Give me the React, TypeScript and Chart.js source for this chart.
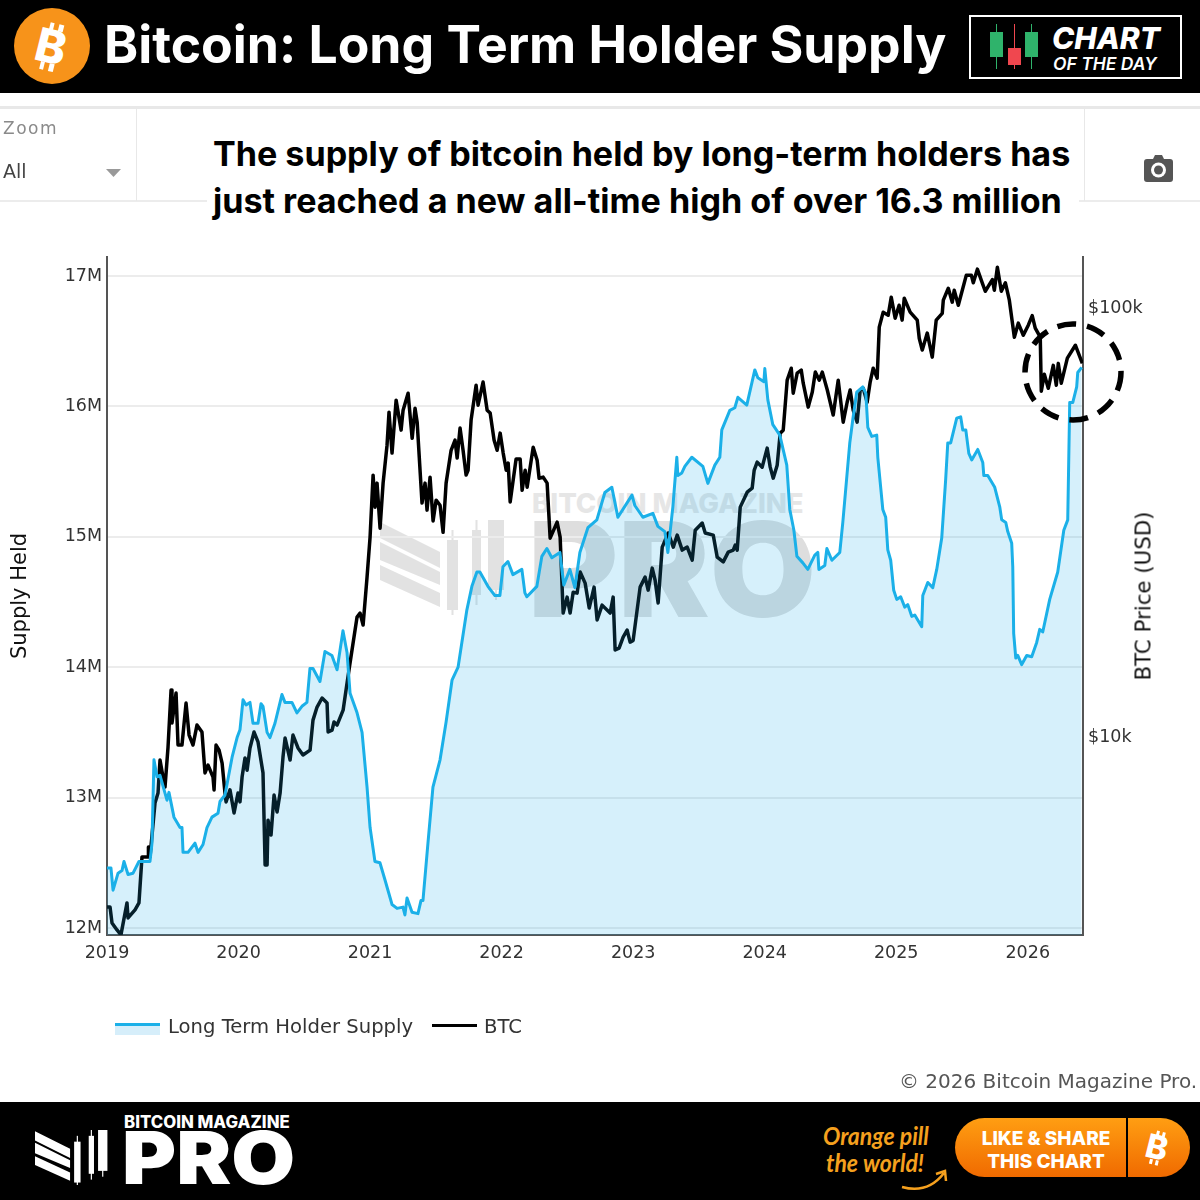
import { useEffect, useRef } from "react";
import type { CSSProperties } from "react";
import { Chart, registerables } from "chart.js";

Chart.register(...registerables);

// Long Term Holder Supply, millions of BTC
const ltsYears = [
  2019.0, 2019.03, 2019.046, 2019.084, 2019.114, 2019.129, 2019.16, 2019.198, 2019.243, 2019.327,
  2019.342, 2019.357, 2019.38, 2019.403, 2019.456, 2019.471, 2019.509, 2019.555, 2019.57, 2019.578,
  2019.616, 2019.669, 2019.692, 2019.73, 2019.76, 2019.798, 2019.844, 2019.859, 2019.897, 2019.951,
  2019.989, 2020.011, 2020.034, 2020.057, 2020.087, 2020.11, 2020.148, 2020.171, 2020.186, 2020.217,
  2020.239, 2020.277, 2020.33, 2020.353, 2020.406, 2020.444, 2020.482, 2020.52, 2020.543, 2020.566,
  2020.619, 2020.657, 2020.71, 2020.749, 2020.794, 2020.825, 2020.848, 2020.901, 2020.939, 2020.977,
  2021.0, 2021.037, 2021.075, 2021.113, 2021.167, 2021.205, 2021.25, 2021.265, 2021.281, 2021.319,
  2021.364, 2021.387, 2021.402, 2021.44, 2021.478, 2021.532, 2021.578, 2021.623, 2021.669, 2021.736,
  2021.774, 2021.812, 2021.835, 2021.896, 2021.926, 2021.949, 2021.987, 2022.01, 2022.048, 2022.086,
  2022.154, 2022.177, 2022.192, 2022.268, 2022.306, 2022.344, 2022.382, 2022.443, 2022.473, 2022.519,
  2022.557, 2022.595, 2022.656, 2022.724, 2022.785, 2022.838, 2022.884, 2022.991, 2023.013, 2023.074,
  2023.15, 2023.188, 2023.241, 2023.264, 2023.302, 2023.332, 2023.34, 2023.37, 2023.393, 2023.446,
  2023.53, 2023.568, 2023.621, 2023.659, 2023.674, 2023.735, 2023.773, 2023.796, 2023.864, 2023.925,
  2023.948, 2023.994, 2024.001, 2024.024, 2024.062, 2024.115, 2024.168, 2024.191, 2024.222, 2024.245,
  2024.29, 2024.328, 2024.381, 2024.404, 2024.412, 2024.457, 2024.473, 2024.511, 2024.571, 2024.594,
  2024.647, 2024.67, 2024.7, 2024.746, 2024.769, 2024.784, 2024.814, 2024.852, 2024.86, 2024.898,
  2024.92, 2024.936, 2024.958, 2024.981, 2025.004, 2025.034, 2025.065, 2025.088, 2025.118, 2025.141,
  2025.194, 2025.202, 2025.24, 2025.278, 2025.308, 2025.346, 2025.376, 2025.392, 2025.414, 2025.46,
  2025.49, 2025.506, 2025.529, 2025.552, 2025.574, 2025.62, 2025.658, 2025.666, 2025.696, 2025.749,
  2025.787, 2025.802, 2025.833, 2025.848, 2025.878, 2025.886, 2025.893, 2025.909, 2025.924, 2025.954,
  2025.992, 2026.03, 2026.068, 2026.091, 2026.114, 2026.167, 2026.228, 2026.274, 2026.304, 2026.319,
  2026.342, 2026.372, 2026.38, 2026.41,
];
const ltsSupply = [
  12.46, 12.46, 12.29, 12.42, 12.44, 12.51, 12.41, 12.42, 12.51, 12.51,
  12.65, 13.29, 13.16, 13.17, 12.98, 13.04, 12.85, 12.77, 12.77, 12.58,
  12.58, 12.65, 12.58, 12.64, 12.77, 12.85, 12.88, 12.97, 13.02, 13.31,
  13.46, 13.52, 13.75, 13.71, 13.73, 13.57, 13.57, 13.72, 13.7, 13.5,
  13.46, 13.57, 13.79, 13.73, 13.73, 13.65, 13.7, 13.73, 13.99, 13.99,
  13.89, 14.12, 14.09, 13.98, 14.28, 14.11, 13.8, 13.65, 13.5, 13.08,
  12.77, 12.51, 12.5, 12.37, 12.18, 12.15, 12.16, 12.1, 12.23, 12.12,
  12.11, 12.21, 12.21, 12.65, 13.08, 13.29, 13.58, 13.9, 14.0, 14.44,
  14.62, 14.73, 14.73, 14.62, 14.58, 14.55, 14.55, 14.77, 14.81, 14.71,
  14.75, 14.57, 14.54, 14.62, 14.85, 14.91, 14.84, 14.88, 14.63, 14.75,
  14.61, 14.88, 15.07, 15.13, 15.34, 15.38, 15.15, 15.32, 15.24, 15.15,
  15.18, 15.08, 15.04, 14.88, 15.23, 15.61, 15.47, 15.49, 15.54, 15.61,
  15.54, 15.41, 15.55, 15.61, 15.82, 15.97, 15.99, 16.07, 16.01, 16.28,
  16.22, 16.19, 16.29, 16.05, 15.86, 15.78, 15.55, 15.21, 15.05, 14.85,
  14.8, 14.75, 14.86, 14.88, 14.75, 14.78, 14.91, 14.82, 14.88, 15.11,
  15.72, 15.9, 16.11, 16.15, 16.1, 15.84, 15.77, 15.78, 15.61, 15.21,
  15.15, 14.9, 14.82, 14.59, 14.52, 14.54, 14.46, 14.48, 14.39, 14.4,
  14.31, 14.55, 14.65, 14.61, 14.75, 14.99, 15.44, 15.72, 15.72, 15.91,
  15.92, 15.82, 15.82, 15.64, 15.59, 15.67, 15.57, 15.47, 15.47, 15.38,
  15.23, 15.13, 15.11, 15.04, 14.95, 14.77, 14.26, 14.07, 14.09, 14.02,
  14.09, 14.08, 14.19, 14.29, 14.27, 14.52, 14.73, 15.05, 15.13, 16.03,
  16.03, 16.15, 16.26, 16.3,
];

// BTC price, USD
const btcYears = [
  2019.0, 2019.023, 2019.038, 2019.076, 2019.106, 2019.152, 2019.16, 2019.213, 2019.243, 2019.266,
  2019.312, 2019.315, 2019.327, 2019.365, 2019.388, 2019.403, 2019.426, 2019.441, 2019.464, 2019.487,
  2019.494, 2019.525, 2019.54, 2019.57, 2019.601, 2019.624, 2019.654, 2019.684, 2019.722, 2019.745,
  2019.768, 2019.806, 2019.814, 2019.829, 2019.852, 2019.875, 2019.897, 2019.905, 2019.935, 2019.966,
  2019.996, 2020.011, 2020.027, 2020.049, 2020.065, 2020.087, 2020.118, 2020.148, 2020.186, 2020.202,
  2020.217, 2020.224, 2020.247, 2020.27, 2020.293, 2020.316, 2020.338, 2020.354, 2020.392, 2020.414,
  2020.452, 2020.49, 2020.544, 2020.566, 2020.597, 2020.635, 2020.673, 2020.681, 2020.711, 2020.726,
  2020.749, 2020.795, 2020.825, 2020.848, 2020.901, 2020.924, 2020.947, 2020.977, 2021.0, 2021.023,
  2021.038, 2021.053, 2021.076, 2021.099, 2021.129, 2021.144, 2021.167, 2021.198, 2021.236, 2021.251,
  2021.289, 2021.32, 2021.342, 2021.358, 2021.395, 2021.418, 2021.433, 2021.456, 2021.479, 2021.502,
  2021.532, 2021.555, 2021.578, 2021.616, 2021.646, 2021.662, 2021.684, 2021.707, 2021.73, 2021.745,
  2021.768, 2021.806, 2021.821, 2021.859, 2021.89, 2021.913, 2021.943, 2021.966, 2021.989, 2022.012,
  2022.035, 2022.05, 2022.065, 2022.11, 2022.141, 2022.156, 2022.179, 2022.194, 2022.24, 2022.27,
  2022.285, 2022.316, 2022.346, 2022.369, 2022.422, 2022.445, 2022.468, 2022.498, 2022.521, 2022.544,
  2022.574, 2022.597, 2022.635, 2022.666, 2022.703, 2022.726, 2022.764, 2022.825, 2022.848, 2022.863,
  2022.893, 2022.924, 2022.954, 2022.977, 2023.0, 2023.053, 2023.091, 2023.114, 2023.145, 2023.167,
  2023.19, 2023.221, 2023.267, 2023.305, 2023.335, 2023.373, 2023.411, 2023.449, 2023.472, 2023.525,
  2023.548, 2023.609, 2023.639, 2023.685, 2023.723, 2023.761, 2023.776, 2023.791, 2023.814, 2023.867,
  2023.905, 2023.92, 2023.943, 2023.981, 2024.019, 2024.042, 2024.065, 2024.095, 2024.118, 2024.141,
  2024.171, 2024.202, 2024.217, 2024.247, 2024.278, 2024.293, 2024.331, 2024.362, 2024.385, 2024.415,
  2024.438, 2024.476, 2024.521, 2024.559, 2024.597, 2024.627, 2024.65, 2024.673, 2024.703, 2024.726,
  2024.749, 2024.779, 2024.802, 2024.825, 2024.855, 2024.871, 2024.901, 2024.939, 2024.962, 2024.992,
  2025.022, 2025.045, 2025.061, 2025.106, 2025.16, 2025.175, 2025.198, 2025.236, 2025.274, 2025.304,
  2025.35, 2025.358, 2025.396, 2025.426, 2025.441, 2025.472, 2025.533, 2025.571, 2025.586, 2025.617,
  2025.654, 2025.677, 2025.731, 2025.746, 2025.769, 2025.799, 2025.83, 2025.86, 2025.898, 2025.928,
  2025.966, 2026.004, 2026.034, 2026.057, 2026.095, 2026.103, 2026.126, 2026.156, 2026.194, 2026.217,
  2026.232, 2026.255, 2026.301, 2026.362, 2026.415,
];
const btcPrice = [
  4018, 4018, 3688, 3552, 3458, 4105, 3788, 3955, 4105, 5254,
  5254, 5543, 5254, 7019, 7405, 8840, 8069, 7648, 9478, 12867,
  10780, 12662, 9580, 9580, 12000, 10108, 9580, 10665, 10272, 8250,
  8600, 8069, 7530, 9580, 9320, 8690, 7405, 7060, 7530, 6655,
  7405, 7060, 8069, 8940, 8370, 9430, 10272, 9740, 8250, 5035,
  5035, 6400, 5910, 7325, 6690, 7405, 8983, 9945, 8840, 10108,
  9430, 9080, 9320, 10950, 11746, 12330, 12000, 10272, 10380, 10840,
  10665, 11550, 13360, 14900, 19035, 19450, 18240, 23592, 29240, 40780,
  34347, 39070, 30680, 39070, 47900, 57180, 45900, 60990, 51920, 57800,
  63300, 49700, 58400, 54200, 35100, 39070, 33800, 40346, 31900, 35650,
  34700, 30000, 39070, 46600, 49200, 44700, 52500, 46600, 40800, 41850,
  54800, 66100, 59380, 67200, 57800, 56900, 49200, 46600, 51100, 45900,
  41850, 43500, 35300, 44450, 44450, 37600, 41850, 38238, 47393, 44200,
  40100, 40346, 39070, 29080, 31700, 29240, 19450, 21192, 19450, 21760,
  21650, 24240, 22840, 19980, 22360, 18750, 20300, 19450, 21192, 15950,
  16120, 17099, 17760, 16640, 16800, 22360, 23592, 22000, 24760, 23200,
  20540, 27713, 29900, 27713, 29560, 27270, 27713, 25840, 30340, 31530,
  29900, 29560, 26265, 25600, 26980, 27270, 28020, 27270, 34347, 37220,
  38030, 41850, 43730, 42570, 47140, 42570, 40120, 43030, 51100, 51900,
  67900, 72400, 63300, 70500, 71650, 66800, 58740, 63700, 70900, 67900,
  70900, 64400, 56300, 67900, 54200, 60300, 64400, 57800, 54200, 64400,
  65000, 60300, 67200, 72400, 68630, 90236, 97800, 96200, 105998, 94700,
  101500, 93700, 105400, 97800, 93700, 85000, 79800, 87400, 76818, 93700,
  97200, 104300, 111200, 103200, 110000, 101500, 119300, 119300, 114500, 123200,
  114500, 109400, 116500, 110000, 124512, 109400, 114500, 104300, 85521, 92200,
  86400, 91200, 96000, 89800, 85500, 64000, 70100, 65000, 73500, 66100,
  74300, 66800, 76400, 81900, 74300,
];

const yearTicks = [2019, 2020, 2021, 2022, 2023, 2024, 2025, 2026];
const supplyTicks = [12, 13, 14, 15, 16, 17];
const priceTicks = [10000, 100000];

const axisFont = { family: "'DejaVu Sans'", size: 17.5 };
const axisInk = "#333";
const edgeLine = "#555";

const fixSize = (prop: "width" | "height", size: number) => (scale: any) => {
  scale[prop] = size;
  scale.paddingTop = 0;
  scale.paddingBottom = 0;
  scale.paddingLeft = 0;
  scale.paddingRight = 0;
};

function Text({ x, y, style, children }: { x: number; y: number; style: CSSProperties; children: any }) {
  return (
    <div style={{ position: "absolute", left: x, top: y, whiteSpace: "nowrap", lineHeight: 1, transformOrigin: "left top", ...style }}>
      {children}
    </div>
  );
}

// the striped mark with three candles, drawn in a 125x95 box
function Emblem({ x, y, w, color }: { x: number; y: number; w: number; color: string }) {
  return (
    <svg style={{ position: "absolute", left: x, top: y }} width={w} height={(w * 95) / 125} viewBox="0 0 125 95">
      <g fill={color}>
        <polygon points="0,2 60,32 60,48 0,18" />
        <polygon points="0,22 60,52 60,65 0,40" />
        <polygon points="0,45 60,73 60,87 0,60" />
        <rect x="67" y="20" width="11" height="70" />
        <rect x="71.5" y="10" width="2" height="85" />
        <rect x="92" y="10" width="9" height="65" />
        <rect x="95.5" y="0" width="2" height="85" />
        <rect x="108" y="0" width="16" height="70" />
        <rect x="115" y="0" width="2" height="80" />
      </g>
    </svg>
  );
}

function Coin({ x, y, size, color }: { x: number; y: number; size: number; color: string }) {
  const tick = (left: number, top: number) => (
    <div
      style={{
        position: "absolute",
        left: left * size,
        top: top * size,
        width: 0.09 * size,
        height: 0.16 * size,
        background: color,
      }}
    />
  );
  return (
    <div
      style={{
        position: "absolute",
        left: x,
        top: y,
        fontFamily: "Inter",
        fontWeight: 800,
        fontSize: size,
        lineHeight: 1,
        color,
        transform: "rotate(14deg)",
      }}
    >
      B
      {tick(0.2, 0.0)}
      {tick(0.4, 0.0)}
      {tick(0.2, 0.88)}
      {tick(0.4, 0.88)}
    </div>
  );
}

function Candle({ x, top, bottom, color }: { x: number; top: number; bottom: number; color: string }) {
  return (
    <>
      <div style={{ position: "absolute", left: x - 0.5, top: 24, width: 1.5, height: 45, background: color }} />
      <div style={{ position: "absolute", left: x - 6, top, width: 13, height: bottom - top, background: color }} />
    </>
  );
}

export default function App() {
  const canvasRef = useRef<HTMLCanvasElement>(null);
  const chartRef = useRef<Chart | null>(null);

  useEffect(() => {
    if (!canvasRef.current) return;
    document.body.style.margin = "0";

    chartRef.current = new Chart(canvasRef.current, {
      type: "line",
      data: {
        datasets: [
          {
            label: "Long Term Holder Supply",
            data: ltsYears.map((year, i) => ({ x: year, y: ltsSupply[i] })),
            yAxisID: "y",
            borderColor: "#1bb0e8",
            backgroundColor: "rgba(29,174,232,0.18)",
            borderWidth: 3,
            borderJoinStyle: "round",
            pointRadius: 0,
            tension: 0,
            fill: "start",
          },
          {
            label: "BTC",
            data: btcYears.map((year, i) => ({ x: year, y: btcPrice[i] })),
            yAxisID: "y1",
            borderColor: "#000",
            borderWidth: 3.5,
            borderJoinStyle: "round",
            pointRadius: 0,
            tension: 0,
            fill: false,
          },
        ],
      },
      options: {
        responsive: false,
        animation: false,
        devicePixelRatio: 1,
        layout: { padding: { left: 0, right: 0, top: 257, bottom: 225 } },
        plugins: { legend: { display: false }, tooltip: { enabled: false } },
        events: [],
        scales: {
          x: {
            type: "linear",
            min: 2019,
            max: 2026.42,
            afterBuildTicks: (scale: any) => {
              scale.ticks = yearTicks.map((value) => ({ value }));
            },
            afterFit: fixSize("height", 40),
            grid: { display: false, drawTicks: false },
            border: { display: true, color: edgeLine, width: 2 },
            ticks: {
              autoSkip: false,
              maxRotation: 0,
              padding: 8,
              color: axisInk,
              font: axisFont,
              callback: (value) => String(value),
            },
          },
          y: {
            type: "linear",
            position: "left",
            min: 11.946,
            max: 17.146,
            afterBuildTicks: (scale: any) => {
              scale.ticks = supplyTicks.map((value) => ({ value }));
            },
            afterFit: fixSize("width", 107),
            grid: { color: "#ececec", lineWidth: 2, drawTicks: false },
            border: { display: true, color: edgeLine, width: 2 },
            title: {
              display: true,
              text: "Supply Held",
              color: "#111",
              font: { family: "'DejaVu Sans'", size: 21 },
              padding: { top: 8, bottom: 0 },
            },
            ticks: {
              autoSkip: false,
              padding: 5,
              color: axisInk,
              font: axisFont,
              callback: (value) => `${value}M`,
            },
          },
          y1: {
            type: "logarithmic",
            position: "right",
            min: 3456,
            max: 131500,
            afterBuildTicks: (scale: any) => {
              scale.ticks = priceTicks.map((value) => ({ value }));
            },
            afterFit: fixSize("width", 117),
            grid: { display: false, drawTicks: false },
            border: { display: true, color: edgeLine, width: 2 },
            ticks: {
              autoSkip: false,
              padding: 5,
              color: axisInk,
              font: axisFont,
              callback: (value) => `$${Number(value) / 1000}k`,
            },
          },
        },
      },
    });

    return () => {
      if (chartRef.current) {
        chartRef.current.destroy();
      }
    };
  }, []);

  const line = (left: number, top: number, width: number, height: number, background: string) => (
    <div style={{ position: "absolute", left, top, width, height, background }} />
  );

  return (
    <div style={{ position: "absolute", left: 0, top: 0, width: 1200, height: 1200, overflow: "hidden", background: "#fff" }}>
      {/* watermark sits under the chart so the fill tints it */}
      <Emblem x={380} y={520} w={125} color="#e2e2e2" />
      <Text x={532} y={490} style={{ fontFamily: "Inter", fontWeight: 800, fontSize: 27.5, color: "#e6e6e6" }}>
        BITCOIN MAGAZINE
      </Text>
      <Text x={528} y={503} style={{ fontFamily: "Inter", fontWeight: 900, fontSize: 132, color: "#dedede", transform: "scaleX(1.04)" }}>
        PRO
      </Text>

      <canvas ref={canvasRef} width={1200} height={1200} style={{ position: "absolute", left: 0, top: 0, display: "block" }} />

      {/* header */}
      {line(0, 0, 1200, 93, "#000")}
      <div style={{ position: "absolute", left: 14, top: 8, width: 76, height: 76, borderRadius: 38, background: "#f7931a" }} />
      <Coin x={36} y={23} size={46} color="#fff" />
      <Text x={104} y={19} style={{ fontFamily: "Inter", fontWeight: 700, fontSize: 51.7, color: "#fff" }}>
        Bitcoin: Long Term Holder Supply
      </Text>
      <div style={{ position: "absolute", left: 969, top: 15, width: 209, height: 60, border: "2px solid #fff" }} />
      <Candle x={996} top={32} bottom={57} color="#2fb36b" />
      <Candle x={1014} top={48} bottom={65} color="#f0474f" />
      <Candle x={1031} top={32} bottom={57} color="#2fb36b" />
      <Text x={1052} y={23} style={{ fontFamily: "Inter", fontWeight: 800, fontStyle: "italic", fontSize: 30, color: "#fff" }}>
        CHART
      </Text>
      <Text x={1053} y={55} style={{ fontFamily: "Inter", fontWeight: 600, fontStyle: "italic", fontSize: 17.5, color: "#fff" }}>
        OF THE DAY
      </Text>

      {/* toolbar */}
      {line(0, 106, 1200, 3, "#e8e8e8")}
      {line(0, 200, 1200, 2, "#ececec")}
      {line(136, 108, 1, 93, "#e8e8e8")}
      {line(1084, 108, 1, 93, "#e8e8e8")}
      <Text x={3} y={120} style={{ fontFamily: "'DejaVu Sans'", fontSize: 17, letterSpacing: 1.5, color: "#8a8a8a" }}>
        Zoom
      </Text>
      <Text x={3} y={162} style={{ fontFamily: "'DejaVu Sans'", fontSize: 19, color: "#444" }}>
        All
      </Text>
      <svg style={{ position: "absolute", left: 106, top: 169 }} width={16} height={10}>
        <polygon points="0,0 15,0 7.5,8" fill="#999" />
      </svg>
      <svg style={{ position: "absolute", left: 1144, top: 155 }} width={29} height={27} viewBox="0 0 29 27">
        <path d="M3 4h6l2-4h7l2 4h6a3 3 0 0 1 3 3v17a3 3 0 0 1-3 3H3a3 3 0 0 1-3-3V7a3 3 0 0 1 3-3z" fill="#555" />
        <circle cx="14.5" cy="15" r="7.5" fill="#fff" />
        <circle cx="14.5" cy="15" r="4.5" fill="#555" />
      </svg>
      <div
        style={{
          position: "absolute",
          left: 207,
          top: 130,
          width: 866,
          padding: "0 0 0 6px",
          background: "#fff",
          fontFamily: "Inter",
          fontWeight: 700,
          fontSize: 34.1,
          lineHeight: "47px",
          color: "#000",
          whiteSpace: "nowrap",
        }}
      >
        The supply of bitcoin held by long-term holders has
        <br />
        just reached a new all-time high of over 16.3 million
      </div>

      {/* right axis title reads upward */}
      <div
        style={{
          position: "absolute",
          left: 1143,
          top: 596,
          transform: "translate(-50%, -50%) rotate(-90deg)",
          fontFamily: "'DejaVu Sans'",
          fontSize: 21.3,
          color: "#111",
          whiteSpace: "nowrap",
        }}
      >
        BTC Price (USD)
      </div>

      {/* circled end of the series */}
      <svg style={{ position: "absolute", left: 1015, top: 315 }} width={116} height={116}>
        <circle cx="58" cy="57" r="48" fill="none" stroke="#000" strokeWidth="5.5" strokeDasharray="19 11" />
      </svg>

      {/* legend */}
      {line(115, 1023, 45, 3, "#1bb0e8")}
      {line(115, 1026, 45, 9, "#d6eefa")}
      <Text x={168} y={1017} style={{ fontFamily: "'DejaVu Sans'", fontSize: 19.6, color: "#333" }}>
        Long Term Holder Supply
      </Text>
      {line(432, 1024, 45, 3, "#000")}
      <Text x={484} y={1017} style={{ fontFamily: "'DejaVu Sans'", fontSize: 19.6, color: "#333" }}>
        BTC
      </Text>
      <Text x={899} y={1071} style={{ fontFamily: "'DejaVu Sans'", fontSize: 20, color: "#555" }}>
        © 2026 Bitcoin Magazine Pro.
      </Text>

      {/* footer */}
      {line(0, 1102, 1200, 98, "#000")}
      <Emblem x={35} y={1130} w={73} color="#fff" />
      <Text x={124} y={1114} style={{ fontFamily: "Inter", fontWeight: 800, fontSize: 16.8, color: "#fff" }}>
        BITCOIN MAGAZINE
      </Text>
      <Text x={122} y={1121} style={{ fontFamily: "Inter", fontWeight: 900, fontSize: 73, color: "#fff", transform: "scaleX(1.13)" }}>
        PRO
      </Text>
      <Text x={823} y={1123} style={{ fontFamily: "Lato", fontStyle: "italic", fontWeight: 700, fontSize: 25, color: "#f5a01e", transform: "scaleX(0.92)" }}>
        Orange pill
      </Text>
      <Text x={826} y={1150} style={{ fontFamily: "Lato", fontStyle: "italic", fontWeight: 700, fontSize: 25, color: "#f5a01e", transform: "scaleX(0.92)" }}>
        the world!
      </Text>
      <svg style={{ position: "absolute", left: 900, top: 1168 }} width={52} height={24}>
        <path d="M2 19 C 20 24 34 18 44 5 M36 6 L45 3 L46 13" fill="none" stroke="#f5a01e" strokeWidth="2.5" />
      </svg>
      <div
        style={{
          position: "absolute",
          left: 955,
          top: 1118,
          width: 235,
          height: 59,
          borderRadius: 30,
          background: "linear-gradient(#ff9e12, #f06a00)",
        }}
      />
      {line(1126, 1118, 2, 59, "#000")}
      <div
        style={{
          position: "absolute",
          left: 966,
          top: 1127,
          width: 160,
          textAlign: "center",
          fontFamily: "Inter",
          fontWeight: 800,
          fontSize: 19,
          lineHeight: "23px",
          color: "#fff",
        }}
      >
        LIKE &amp; SHARE
        <br />
        THIS CHART
      </div>
      <Coin x={1146} y={1131} size={33} color="#fff" />
    </div>
  );
}
